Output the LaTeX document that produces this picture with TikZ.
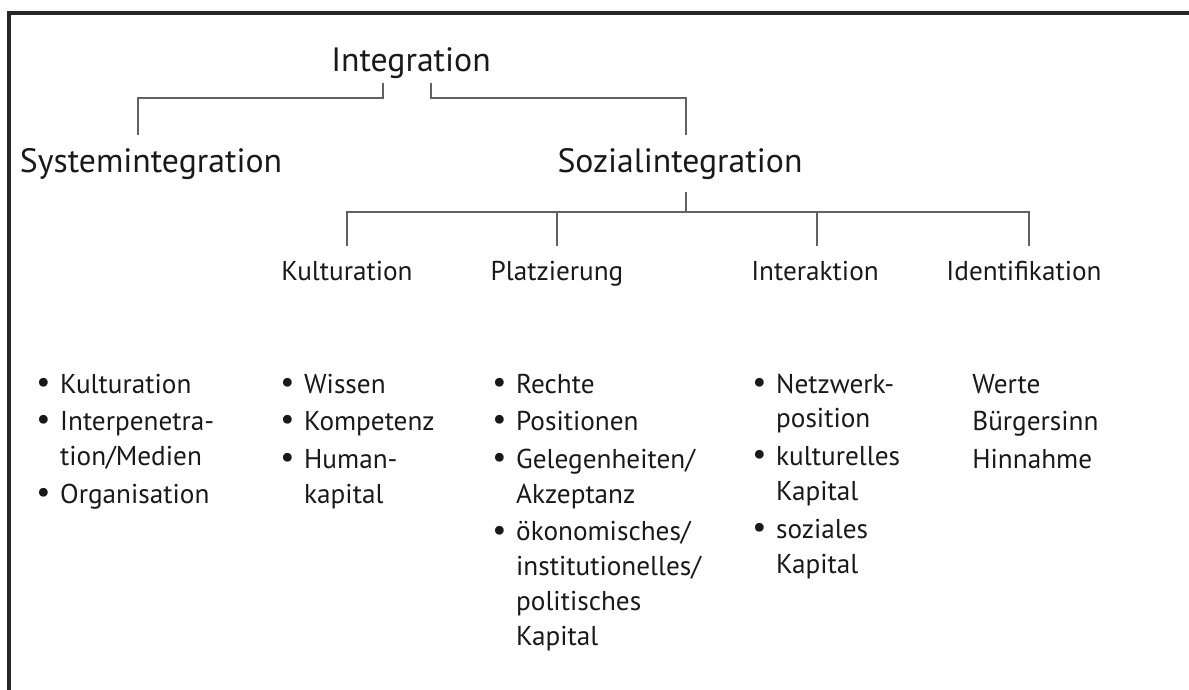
\documentclass[tikz,border=0pt]{standalone}
\usepackage{fontspec}
\setmainfont{PT Sans}
\usetikzlibrary{positioning,calc}

\newcommand{\pkt}{\raisebox{0.05ex}{\scalebox{1.15}{\textbullet}}}

\begin{document}
\begin{tikzpicture}[
    head/.style={font=\fontsize{19.2}{24}\selectfont, anchor=base, inner xsep=2pt, inner ysep=7pt},
    sub/.style={font=\fontsize{15.5}{19.5}\selectfont, anchor=base, inner xsep=2pt, inner ysep=8pt},
    liste/.style={font=\fontsize{15.5}{19.9}\selectfont, anchor=base west, inner sep=0pt},
    ast/.style={draw=black!62, line width=0.85pt},
    every node/.append style={text=black!90}
  ]
  \useasboundingbox (0,0) rectangle (23.78,-13.8);
  % Rahmen
  \draw[black!85, line width=1.9pt] (0.18,-13.8) -- (0.18,-0.26) -- (23.78,-0.26);

  % Ebene 0 und 1
  \node[head, inner ysep=2pt] (integ) at (8.22,-1.44) {Integration};
  \node[head] (sys) at (3.02,-3.44) {Systemintegration};
  \node[head] (soz) at (13.6,-3.44) {Sozialintegration};
  \draw[ast] ([xshift=-0.56cm]integ.south) -- ++(0,-0.3) -| ([xshift=-0.26cm]sys.north);
  \draw[ast] ([xshift=0.4cm]integ.south) -- ++(0,-0.3) -| ([xshift=0.12cm]soz.north);

  % Ebene 2
  \node[sub] (kult)  at (6.94,-5.6)  {Kulturation};
  \node[sub] (platz) at (11.14,-5.6) {Platzierung};
  \node[sub] (inter) at (16.3,-5.6)  {Interaktion};
  \node[sub] (ident) at (20.48,-5.6) {Identifikation};
  \draw[ast] ([xshift=0.12cm]soz.south) -- ++(0,-0.4) coordinate (bar);
  \foreach \n/\dx in {kult/0, platz/0, inter/0.04, ident/0.1}
    \draw[ast] (bar) -| ([xshift=\dx cm]\n.north);

  % Listen
  \node[liste] (l1) at (0.72,-7.86) {\begin{tabular}[t]{@{}l@{\hspace{5.5pt}}l@{}}
      \pkt & Kulturation\\[1.5pt]
      \pkt & Interpenetra-\\
           & tion/Medien\\[1.5pt]
      \pkt & Organisation
    \end{tabular}};
  \node[liste] (l2) at (5.6,-7.86) {\begin{tabular}[t]{@{}l@{\hspace{5.5pt}}l@{}}
      \pkt & Wissen\\[1.5pt]
      \pkt & Kompetenz\\[1.5pt]
      \pkt & Human-\\
           & kapital
    \end{tabular}};
  \node[liste] (l3) at (9.84,-7.86) {\begin{tabular}[t]{@{}l@{\hspace{5.5pt}}l@{}}
      \pkt & Rechte\\[1.5pt]
      \pkt & Positionen\\[1.5pt]
      \pkt & Gelegenheiten/\\
           & Akzeptanz\\[1.5pt]
      \pkt & ökonomisches/\\
           & institutionelles/\\
           & politisches\\
           & Kapital
    \end{tabular}};
  \node[liste] (l4) at (15.04,-7.86) {\begin{tabular}[t]{@{}l@{\hspace{5.5pt}}l@{}}
      \pkt & Netzwerk-\\
           & position\\[1.5pt]
      \pkt & kulturelles\\
           & Kapital\\[1.5pt]
      \pkt & soziales\\
           & Kapital
    \end{tabular}};
  \node[liste] (l5) at (19.44,-7.86) {\begin{tabular}[t]{@{}l@{}}
      Werte\\[1.5pt]
      Bürgersinn\\[1.5pt]
      Hinnahme
    \end{tabular}};
\end{tikzpicture}
\end{document}
